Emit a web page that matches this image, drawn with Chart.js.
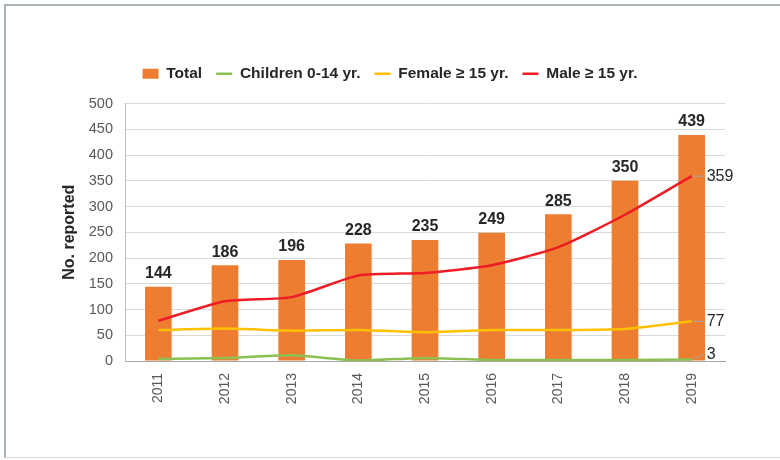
<!DOCTYPE html>
<html>
<head>
<meta charset="utf-8">
<script src="https://cdn.jsdelivr.net/npm/chart.js@4"></script>
<style>
  html, body { margin: 0; padding: 0; background: #fff; }
  #wrap { position: relative; width: 780px; height: 460px; }
  #frame {
    position: absolute; left: 4px; top: 4px; width: 776px; height: 454px;
    border-top: 2px solid #a8b4b4; border-left: 2px solid #a8b4b4;
    border-bottom: 1px solid #d6d6d6; box-sizing: border-box;
  }
  canvas { position: absolute; left: 0; top: 0; }
</style>
</head>
<body>
<div id="wrap">
  <div id="frame"></div>
  <canvas id="cases" width="780" height="460"></canvas>
</div>
<script>
const years = ["2011", "2012", "2013", "2014", "2015", "2016", "2017", "2018", "2019"];
const total = [144, 186, 196, 228, 235, 249, 285, 350, 439];
const children = [4, 6, 11, 1, 6, 2, 2, 2, 3];
const female = [60, 63, 59, 60, 56, 60, 60, 62, 77];
const male = [78, 116, 124, 166, 171, 186, 221, 284, 359];
const yTicks = [0, 50, 100, 150, 200, 250, 300, 350, 400, 450, 500];

Chart.defaults.font.family = '"Liberation Sans", Arial, sans-serif';

const labelPlugin = {
  id: "valueLabels",
  beforeInit(chart) {
    // push the plot area down a bit below the legend
    const fit = chart.legend.fit;
    chart.legend.fit = function () {
      fit.bind(chart.legend)();
      this.height += 12;
    };
  },
  afterDatasetsDraw(chart) {
    const ctx = chart.ctx;
    ctx.save();
    // totals above bars
    ctx.font = 'bold 16px "Liberation Sans", Arial, sans-serif';
    ctx.fillStyle = "#262626";
    ctx.textAlign = "center";
    ctx.textBaseline = "bottom";
    chart.getDatasetMeta(0).data.forEach((bar, i) => {
      ctx.fillText(total[i], bar.x, bar.y - 5);
    });
    // last value of each line, with leader line
    ctx.font = '16px "Liberation Sans", Arial, sans-serif';
    ctx.textAlign = "left";
    ctx.textBaseline = "middle";
    const shifts = { 1: -5, 2: 0, 3: 0 };
    [1, 2, 3].forEach((di) => {
      const pts = chart.getDatasetMeta(di).data;
      const p = pts[pts.length - 1];
      const vals = chart.data.datasets[di].data;
      const dy = shifts[di];
      ctx.strokeStyle = "#a6a6a6";
      ctx.lineWidth = 1;
      ctx.beginPath();
      ctx.moveTo(p.x + 1, p.y);
      if (dy) {
        ctx.lineTo(p.x + 11, p.y + dy);
        ctx.lineTo(p.x + 14, p.y + dy);
      } else {
        ctx.lineTo(p.x + 14, p.y);
      }
      ctx.stroke();
      ctx.fillStyle = "#262626";
      ctx.fillText(vals[vals.length - 1], p.x + 15, p.y + dy);
    });
    ctx.restore();
  }
};

const lineSet = (label, data, color) => ({
  type: "line",
  label: label,
  data: data,
  borderColor: color,
  backgroundColor: color,
  borderWidth: 2.5,
  pointRadius: 0,
  pointStyle: "line",
  tension: 0.2,
  order: 0
});

new Chart(document.getElementById("cases"), {
  type: "bar",
  data: {
    labels: years,
    datasets: [
      {
        label: "Total",
        data: total,
        backgroundColor: "#ED7D31",
        borderWidth: 0,
        barPercentage: 0.4,
        categoryPercentage: 1.0,
        pointStyle: "rect",
        order: 1
      },
      lineSet("Children 0-14 yr.", children, "#8CC152"),
      lineSet("Female \u2265 15 yr.", female, "#FFC000"),
      lineSet("Male \u2265 15 yr.", male, "#EE1C25")
    ]
  },
  options: {
    responsive: false,
    animation: false,
    layout: { padding: { top: 52, left: 0, right: 0, bottom: 0 } },
    plugins: {
      tooltip: { enabled: false },
      legend: {
        position: "top",
        labels: {
          usePointStyle: true,
          pointStyleWidth: 16,
          boxHeight: 10,
          padding: 14,
          color: "#262626",
          font: { size: 15.5, weight: "bold" },
          sort: (a, b) => a.datasetIndex - b.datasetIndex
        }
      }
    },
    scales: {
      x: {
        grid: { display: false },
        border: { display: true, color: "#a6a6a6", width: 1 },
        ticks: {
          color: "#595959",
          font: { size: 14 },
          minRotation: 90,
          maxRotation: 90,
          padding: 4
        },
        afterFit(scale) { scale.height = 99; }
      },
      y: {
        min: 0,
        max: 500,
        afterBuildTicks(scale) { scale.ticks = yTicks.map((v) => ({ value: v })); },
        grid: { color: "#d9d9d9", drawTicks: false },
        border: { display: true, color: "#bfbfbf", width: 1 },
        ticks: { color: "#595959", font: { size: 14.5 }, padding: 12 },
        title: {
          display: true,
          text: "No. reported",
          color: "#262626",
          font: { size: 16, weight: "bold" },
          padding: { top: 60, bottom: 0 }
        },
        afterFit(scale) { scale.width = 125; }
      },
      y2: {
        position: "right",
        display: true,
        grid: { display: false },
        border: { display: false },
        ticks: { display: false },
        afterFit(scale) { scale.width = 55; }
      }
    }
  },
  plugins: [labelPlugin]
});
</script>
</body>
</html>
